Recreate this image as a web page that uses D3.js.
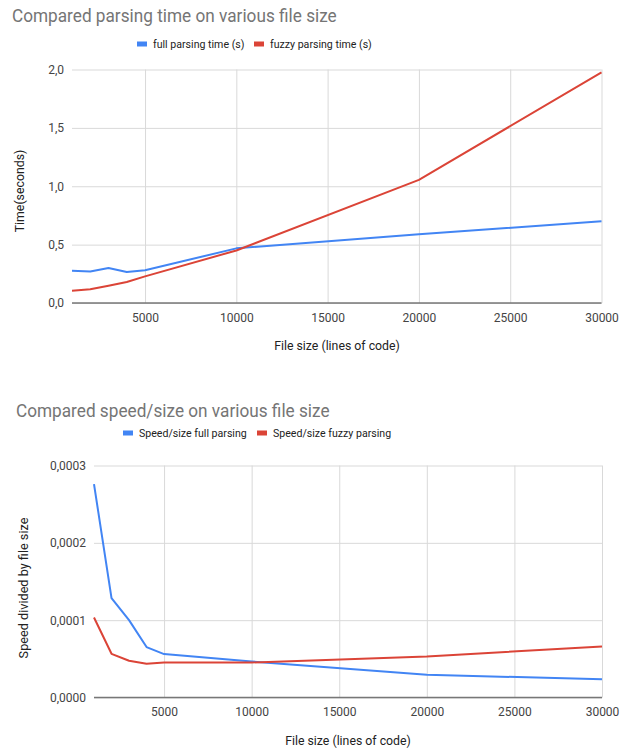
<!DOCTYPE html>
<html>
<head>
<meta charset="utf-8">
<script src="https://cdn.jsdelivr.net/npm/d3@7"></script>
<style>
  html, body { margin: 0; padding: 0; background: #fff; }
  svg { display: block; font-family: Roboto, Arial, sans-serif; }
</style>
</head>
<body>
<svg id="chart" width="635" height="749"></svg>
<script>
// File sizes (lines of code) measured
const fileSizes = [1000, 2000, 3000, 4000, 5000, 10000, 20000, 30000];

// Parsing time in seconds
const fullParsingTime  = [0.277, 0.270, 0.300, 0.265, 0.280, 0.468, 0.588, 0.700];
const fuzzyParsingTime = [0.105, 0.117, 0.148, 0.180, 0.228, 0.450, 1.055, 1.975];

// Parsing time divided by file size
const fullSpeedSize  = [0.000276, 0.0001286, 0.0001000, 0.0000652, 0.0000561, 0.0000466, 0.0000294, 0.0000236];
const fuzzySpeedSize = [0.0001035, 0.0000565, 0.0000475, 0.0000436, 0.0000453, 0.0000453, 0.0000530, 0.0000660];

const xTicks = [5000, 10000, 15000, 20000, 25000, 30000];
const timeTicks = [0, 0.5, 1.0, 1.5, 2.0];
const speedTicks = [0, 0.0001, 0.0002, 0.0003];

const BLUE = "#4285f4";
const RED = "#db4437";

const svg = d3.select("#chart");

function drawChart(cfg) {
  const g = svg.append("g");

  // title (slightly condensed)
  g.append("text")
    .attr("transform", `translate(${cfg.titleX},${cfg.titleY}) scale(0.93,1)`)
    .attr("font-size", 18.5).attr("fill", "#757575")
    .text(cfg.title);

  // legend
  cfg.legend.forEach(item => {
    g.append("rect")
      .attr("x", item.x).attr("y", cfg.legendY - 2.5)
      .attr("width", 10).attr("height", 5).attr("fill", item.color);
    g.append("text")
      .attr("x", item.x + 16).attr("y", cfg.legendY + 4)
      .attr("font-size", 10.6).attr("fill", "#222")
      .text(item.label);
  });

  const x = d3.scaleLinear().domain([1000, 30000]).range([cfg.left, cfg.right]);
  const y = d3.scaleLinear().domain(cfg.yDomain).range([cfg.bottom, cfg.top]);

  // horizontal grid
  g.append("g")
    .attr("transform", `translate(${cfg.left},0)`)
    .call(d3.axisLeft(y).tickValues(cfg.yTicks).tickSize(-(cfg.right - cfg.left)).tickFormat(cfg.yFormat).tickPadding(8))
    .call(a => a.select(".domain").remove())
    .call(a => a.selectAll(".tick line").attr("stroke", "#d9d9d9").attr("stroke-width", 1))
    .call(a => a.selectAll(".tick text").attr("font-size", 12).attr("fill", "#444").attr("font-family", "Roboto, Arial, sans-serif"));

  // vertical grid + labels
  g.append("g")
    .attr("transform", `translate(0,${cfg.bottom})`)
    .call(d3.axisBottom(x).tickValues(xTicks).tickSize(-(cfg.bottom - cfg.top)).tickFormat(d3.format("d")).tickPadding(10))
    .call(a => a.select(".domain").remove())
    .call(a => a.selectAll(".tick line").attr("stroke", "#d9d9d9").attr("stroke-width", 1))
    .call(a => a.selectAll(".tick text").attr("font-size", 12).attr("fill", "#444").attr("font-family", "Roboto, Arial, sans-serif"));

  // zero baseline
  g.append("line")
    .attr("x1", cfg.left).attr("x2", cfg.right)
    .attr("y1", y(0)).attr("y2", y(0))
    .attr("stroke", "#777").attr("stroke-width", 1.5);

  // series
  const line = d3.line().x(d => x(d[0])).y(d => y(d[1]));
  cfg.series.forEach(s => {
    g.append("path")
      .datum(fileSizes.map((f, i) => [f, s.values[i]]))
      .attr("fill", "none")
      .attr("stroke", s.color)
      .attr("stroke-width", 2)
      .attr("stroke-linejoin", "round")
      .attr("d", line);
  });

  // axis titles
  g.append("text")
    .attr("x", cfg.xTitleX).attr("y", cfg.xTitleY)
    .attr("text-anchor", "middle").attr("font-size", 12.3).attr("fill", "#222")
    .text("File size (lines of code)");
  g.append("text")
    .attr("transform", `translate(${cfg.yTitleX},${cfg.yTitleY}) rotate(-90)`)
    .attr("text-anchor", "middle").attr("font-size", cfg.yTitleSize).attr("fill", "#222")
    .text(cfg.yTitle);
}

const commaFmt = digits => d => d3.format(`.${digits}f`)(d).replace(".", ",");

drawChart({
  title: "Compared parsing time on various file size",
  titleX: 12, titleY: 21.5,
  legendY: 44,
  legend: [
    { x: 137, color: BLUE, label: "full parsing time (s)" },
    { x: 254, color: RED, label: "fuzzy parsing time (s)" }
  ],
  left: 72, right: 601.5, top: 69.5, bottom: 303,
  yDomain: [0, 2], yTicks: timeTicks, yFormat: commaFmt(1),
  series: [
    { values: fullParsingTime, color: BLUE },
    { values: fuzzyParsingTime, color: RED }
  ],
  xTitleX: 337, xTitleY: 350,
  yTitleX: 24, yTitleY: 191, yTitleSize: 12.3,
  yTitle: "Time(seconds)"
});

drawChart({
  title: "Compared speed/size on various file size",
  titleX: 16, titleY: 416.5,
  legendY: 433,
  legend: [
    { x: 123, color: BLUE, label: "Speed/size full parsing" },
    { x: 257, color: RED, label: "Speed/size fuzzy parsing" }
  ],
  left: 94, right: 602, top: 465.5, bottom: 697.5,
  yDomain: [0, 0.0003], yTicks: speedTicks, yFormat: commaFmt(4),
  series: [
    { values: fullSpeedSize, color: BLUE },
    { values: fuzzySpeedSize, color: RED }
  ],
  xTitleX: 348, xTitleY: 745,
  yTitleX: 28, yTitleY: 588, yTitleSize: 12.7,
  yTitle: "Speed divided by file size"
});
</script>
</body>
</html>
